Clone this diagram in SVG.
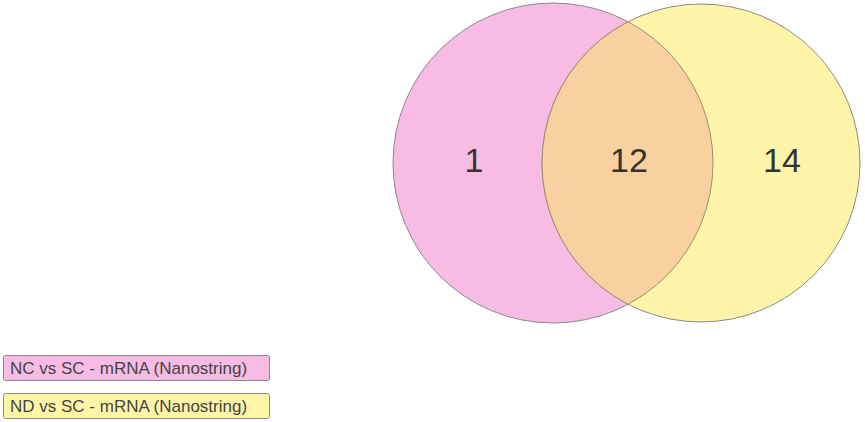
<svg xmlns="http://www.w3.org/2000/svg" width="865" height="422" viewBox="0 0 865 422">
<style>
.c{stroke:#8a8a8a;stroke-width:1}
.n{font-family:"Liberation Sans",Arial,sans-serif;font-size:34px;fill:#333;text-anchor:middle}
.l{font-family:"Liberation Sans",Arial,sans-serif;font-size:17px;fill:#444}
.b{stroke:#8a8a8a;stroke-width:1}
</style>
<rect width="865" height="422" fill="#fff"/>
<g id="setA"><circle class="c" cx="553" cy="163" r="160" fill="#f8bbe4"/></g>
<g id="setB"><circle class="c" cx="701" cy="163" r="159" fill="#fff39a" fill-opacity="0.85"/></g>
<g id="overlap">
<clipPath id="ca"><circle cx="553" cy="163" r="160"/></clipPath>
<circle cx="701" cy="163" r="159" fill="#f9d0a0" stroke="#a09070" stroke-width="1" clip-path="url(#ca)"/>
<circle cx="553" cy="163" r="160" fill="none" stroke="#a09070" stroke-width="1" clip-path="url(#cb)"/>
<clipPath id="cb"><circle cx="701" cy="163" r="159"/></clipPath>
</g>
<g id="labels">
<text class="n" x="474" y="172">1</text>
<text class="n" x="629" y="172">12</text>
<text class="n" x="782" y="172">14</text>
</g>
<g id="legendA"><rect class="b" x="3.5" y="355.5" width="266" height="25" rx="2" fill="#f8bbe4"/><text class="l" x="10" y="374">NC vs SC - mRNA (Nanostring)</text></g>
<g id="legendB"><rect class="b" x="3.5" y="393.5" width="266" height="25" rx="2" fill="#fff6a8"/><text class="l" x="10" y="412">ND vs SC - mRNA (Nanostring)</text></g>
</svg>
